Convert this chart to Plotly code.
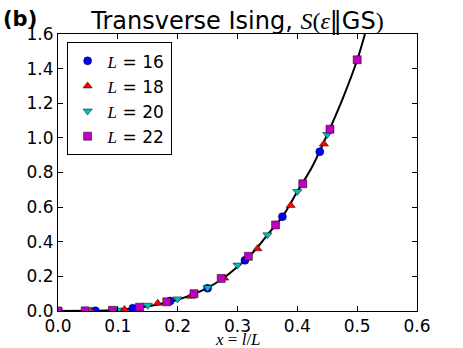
import plotly.graph_objects as go

# Simulation points for each chain length L (x = l/L)
x_L16 = [0, 1/16, 2/16, 3/16, 4/16, 5/16, 6/16, 7/16]
y_L16 = [0, 0.001, 0.016, 0.058, 0.132, 0.293, 0.545, 0.92]

x_L18 = [0, 1/18, 2/18, 3/18, 4/18, 5/18, 6/18, 7/18, 8/18]
y_L18 = [0, 0.001, 0.009, 0.045, 0.085, 0.19, 0.36, 0.61, 0.965]

x_L20 = [0, 1/20, 2/20, 3/20, 4/20, 5/20, 6/20, 7/20, 8/20, 9/20]
y_L20 = [0, 0.001, 0.006, 0.033, 0.07, 0.135, 0.265, 0.44, 0.69, 1.02]

x_L22 = [0, 1/22, 2/22, 3/22, 4/22, 5/22, 6/22, 7/22, 8/22, 9/22, 10/22, 11/22]
y_L22 = [0, 0.001, 0.004, 0.022, 0.053, 0.1, 0.188, 0.316, 0.497, 0.735, 1.05, 1.451]

# Theory curve
x_curve = [0, 0.05, 0.08, 0.1, 0.125, 0.15, 0.175, 0.2, 0.225, 0.25, 0.275, 0.3,
           0.325, 0.35, 0.375, 0.4, 0.425, 0.45, 0.475, 0.5, 0.513]
y_curve = [0, 0.001, 0.003, 0.006, 0.014, 0.027, 0.043, 0.065, 0.096, 0.134, 0.186, 0.255,
           0.335, 0.44, 0.545, 0.69, 0.835, 1.02, 1.22, 1.45, 1.6]

SERIF = "Liberation Serif"
SANS = "DejaVu Sans"

series = [
    ("16", x_L16, y_L16, "circle", "#0000ff", 8),
    ("18", x_L18, y_L18, "triangle-up", "#ff0000", 8),
    ("20", x_L20, y_L20, "triangle-down", "#00bfbf", 8),
    ("22", x_L22, y_L22, "square", "#bf00bf", 8),
]

fig = go.Figure()

fig.add_trace(go.Scatter(
    x=x_curve, y=y_curve, mode="lines", line=dict(color="black", width=2, shape="spline"),
    showlegend=False, cliponaxis=True,
))

for label, xs, ys, sym, col, size in series:
    fig.add_trace(go.Scatter(
        x=xs, y=ys, mode="markers",
        name=f"<span style='font-family:{SERIF}'><i>L</i></span> = {label}",
        marker=dict(symbol=sym, color=col, size=size, line=dict(color="black", width=0.5)),
        cliponaxis=True,
    ))

axis_common = dict(
    showgrid=False, zeroline=False, showline=True, linecolor="black", linewidth=1,
    mirror="allticks", ticks="inside", ticklen=5, tickcolor="black",
    tickfont=dict(family=SANS, size=17, color="black"),
    tickformat=".1f",
)

fig.update_xaxes(range=[0, 0.6], dtick=0.1, ticklabelstandoff=0, **axis_common)
fig.update_yaxes(range=[0, 1.6], dtick=0.2, **axis_common)

fig.update_layout(
    width=463, height=348,
    margin=dict(l=58, r=46, t=34, b=35),
    paper_bgcolor="white", plot_bgcolor="white",
    font=dict(family=SANS, color="black"),
    title=dict(
        text=(f"Transverse Ising, <span style='font-family:{SERIF}'><i>S</i>(<i>ε</i></span>‖GS"
              f"<span style='font-family:{SERIF}'>)</span>"),
        x=0.5, xref="paper", xanchor="center",
        y=1 - 21 / 348, yref="container", yanchor="middle",
        font=dict(family=SANS, size=24, color="black"),
    ),
    legend=dict(
        x=0.024, y=0.97, xanchor="left", yanchor="top",
        bordercolor="black", borderwidth=1, bgcolor="white",
        font=dict(family=SANS, size=17, color="black"),
        tracegroupgap=0, itemwidth=30,
    ),
    annotations=[
        dict(text="<b>(b)</b>", xref="paper", yref="paper", x=-0.16, y=1.055,
             xanchor="left", yanchor="middle", showarrow=False,
             font=dict(family=SANS, size=21, color="black")),
        dict(text="<i>x</i> = <i>l</i>/<i>L</i>", xref="paper", yref="paper", x=0.5, y=-0.102,
             xanchor="center", yanchor="middle", showarrow=False,
             font=dict(family=SERIF, size=17, color="black")),
    ],
)

fig.write_html("out.html", config={"displayModeBar": False},
               post_script="document.body.style.margin='0';")
